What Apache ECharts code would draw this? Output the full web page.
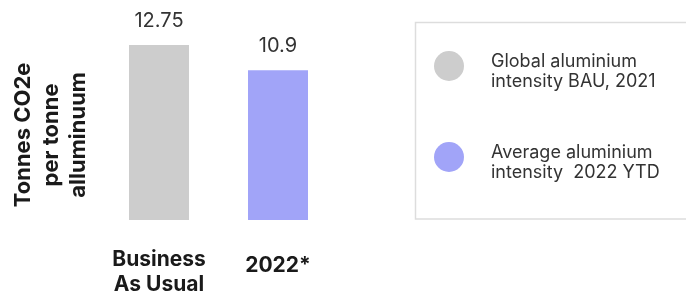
<!DOCTYPE html>
<html>
<head>
<meta charset="utf-8">
<script src="https://cdn.jsdelivr.net/npm/echarts@6/dist/echarts.min.js"></script>
<style>html,body{margin:0;padding:0;background:#fff}#c{width:686px;height:295px}</style>
</head>
<body>
<div id="c"></div>
<script>
const categories = ['Business\nAs Usual', '2022*'];
const values = [12.75, 10.9];
const valueLabels = ['12.75', '10.9'];
const seriesNames = ['Global aluminium\nintensity BAU, 2021', 'Average aluminium\nintensity  2022 YTD'];
const colors = ['#cdcdcd', '#a1a4f8'];
const yAxisName = 'Tonnes CO2e\nper tonne\nalluminuum';

const FONT = 'Inter, "Liberation Sans", Arial, sans-serif';
const chart = echarts.init(document.getElementById('c'), null, {renderer: 'canvas'});
chart.setOption({
  backgroundColor: '#fff',
  animation: false,
  grid: {left: 99.5, width: 238, top: 27.8, height: 192.2, containLabel: false, outerBoundsMode: 'none'},
  graphic: [{
    type: 'rect', silent: true, z: -1,
    shape: {x: 415.5, y: 22.5, width: 320, height: 196.5},
    style: {fill: 'none', stroke: '#dddddd', lineWidth: 1.5}
  }],
  xAxis: {
    type: 'category',
    data: categories,
    axisLine: {show: false},
    axisTick: {show: false},
    axisLabel: {
      interval: 0,
      margin: 27,
      fontFamily: FONT, fontWeight: 'bold', fontSize: 21, lineHeight: 25, color: '#1a1a1a',
      formatter: function (v) {
        return v.indexOf('\n') >= 0 ? v : '{b|' + v + '}';
      },
      rich: {b: {fontFamily: FONT, fontWeight: 'bold', fontSize: 21, lineHeight: 25, color: '#1a1a1a', padding: [12, 0, 0, 0]}}
    }
  },
  yAxis: {
    type: 'value', min: 0, max: 14,
    axisLine: {show: false}, axisTick: {show: false}, axisLabel: {show: false}, splitLine: {show: false},
    name: yAxisName,
    nameLocation: 'middle', nameRotate: 90, nameGap: 7,
    nameTextStyle: {fontFamily: FONT, fontWeight: 'bold', fontSize: 22, lineHeight: 27.5, color: '#1a1a1a', padding: [0, 22, 0, 0]}
  },
  legend: {
    orient: 'vertical',
    left: 415, top: 22,
    data: seriesNames.map(function (n) { return {name: n, icon: 'circle'}; }),
    itemWidth: 30, itemHeight: 30, itemGap: 39,
    borderWidth: 0,
    padding: [18, 20, 36, 19],
    formatter: function (n) {
      return '{s| }\n' + n.split('\n').map(function (l) { return '{t|' + l + '}'; }).join('\n');
    },
    textStyle: {
      fontFamily: FONT, fontSize: 18, lineHeight: 20, color: '#333', padding: [0, 0, 0, 22],
      rich: {
        s: {fontSize: 6, lineHeight: 12},
        t: {fontFamily: FONT, fontSize: 18, lineHeight: 20, color: '#333'}
      }
    }
  },
  series: seriesNames.map(function (n, i) {
    return {
      name: n, type: 'bar', stack: 'all', barWidth: 60,
      data: categories.map(function (c, j) { return j === i ? values[j] : '-'; }),
      itemStyle: {color: colors[i]},
      label: {show: true, position: 'top', distance: 14, fontFamily: FONT, fontSize: 20, color: '#333',
        formatter: function (p) { return valueLabels[p.dataIndex]; }}
    };
  })
});
</script>
</body>
</html>
